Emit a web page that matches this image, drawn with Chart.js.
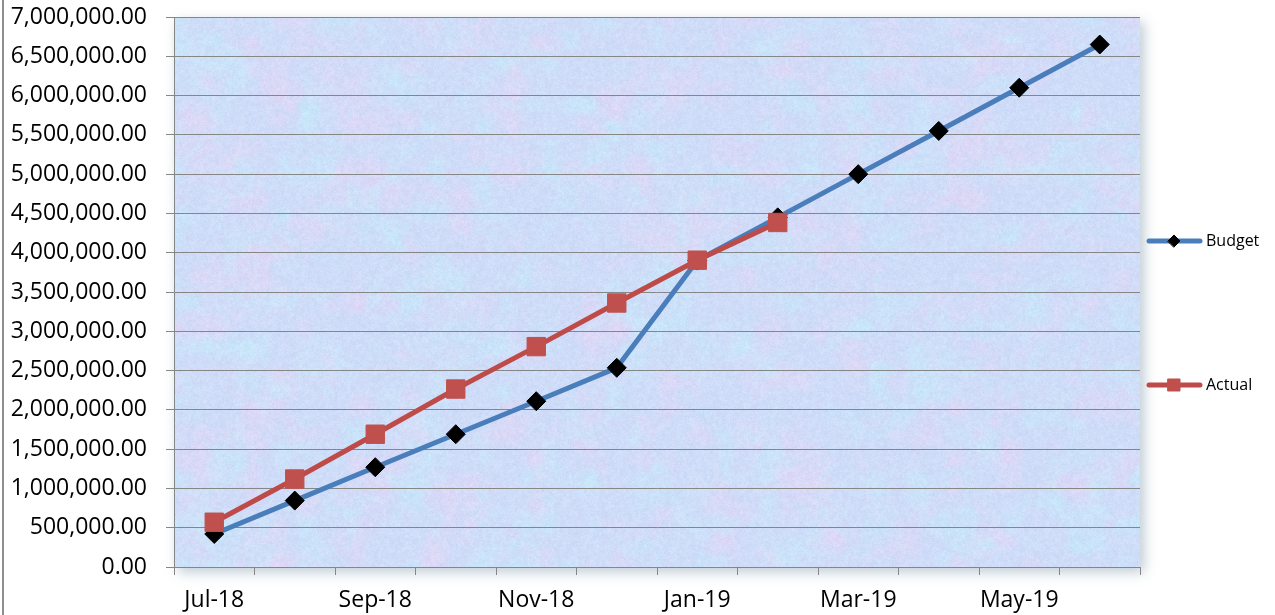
<!DOCTYPE html>
<html>
<head>
<meta charset="utf-8">
<script src="https://cdn.jsdelivr.net/npm/chart.js@4.4.1/dist/chart.umd.min.js"></script>
<style>
  html, body { margin: 0; padding: 0; background: #ffffff; }
  #wrap { width: 1275px; height: 615px; position: relative; }
</style>
</head>
<body>
<div id="wrap"><canvas id="c" width="1275" height="615"></canvas></div>
<script>
// Monthly cumulative figures
const months = ['Jul-18', 'Aug-18', 'Sep-18', 'Oct-18', 'Nov-18', 'Dec-18',
                'Jan-19', 'Feb-19', 'Mar-19', 'Apr-19', 'May-19', 'Jun-19'];
const budget = [420000, 845000, 1270000, 1690000, 2110000, 2535000,
                3900000, 4450000, 5000000, 5550000, 6100000, 6650000];
const actual = [570000, 1120000, 1690000, 2265000, 2805000, 3360000,
                3905000, 4385000, null, null, null, null];
const yMin = 0;
const yMax = 7000000;
const yStep = 500000;

const FONT = '"Open Sans", "Liberation Sans", sans-serif';
const GRID = '#868686';

// Marbled blue / pink paper texture for the plot area
function makeTexture(w, h) {
  const cv = document.createElement('canvas');
  cv.width = w; cv.height = h;
  const g = cv.getContext('2d');
  const img = g.createImageData(w, h);
  const hash = (x, y, s) => {
    const v = Math.sin(x * 127.1 + y * 311.7 + s * 74.7) * 43758.5453;
    return v - Math.floor(v);
  };
  const noise = (x, y, s) => {
    const xi = Math.floor(x), yi = Math.floor(y);
    const xf = x - xi, yf = y - yi;
    const u = xf * xf * (3 - 2 * xf), v = yf * yf * (3 - 2 * yf);
    const a = hash(xi, yi, s), b = hash(xi + 1, yi, s);
    const c = hash(xi, yi + 1, s), d = hash(xi + 1, yi + 1, s);
    return a + (b - a) * u + (c - a) * v + (a - b - c + d) * u * v;
  };
  const fbm = (x, y, s) => {
    let t = 0, amp = 0.5, f = 1;
    for (let o = 0; o < 4; o++) { t += amp * noise(x * f, y * f, s + o); amp *= 0.5; f *= 2; }
    return t / 0.9375;
  };
  for (let y = 0; y < h; y++) {
    for (let x = 0; x < w; x++) {
      const pink = Math.max(0, fbm(x / 26, y / 26, 3) - 0.48) * 1.7;
      const cyan = Math.max(0, fbm(x / 22 + 9, y / 22 + 4, 11) - 0.48) * 1.8;
      const grain = (hash(x, y, 21) - 0.5) * 9 + (fbm(x / 3, y / 3, 31) - 0.5) * 14;
      let r = 207, gg = 220, b = 248;
      r += (230 - r) * pink; gg += (213 - gg) * pink; b += (245 - b) * pink;
      r += (196 - r) * cyan; gg += (234 - gg) * cyan; b += (250 - b) * cyan;
      const i = (y * w + x) * 4;
      img.data[i] = Math.min(255, r + grain);
      img.data[i + 1] = Math.min(255, gg + grain);
      img.data[i + 2] = Math.min(255, b + grain * 0.5);
      img.data[i + 3] = 255;
    }
  }
  g.putImageData(img, 0, 0);
  return cv;
}

let texture = null;

const plotBackground = {
  id: 'plotBackground',
  beforeDraw(chart) {
    const { ctx, chartArea: a } = chart;
    const w = Math.round(a.right - a.left), h = Math.round(a.bottom - a.top);
    if (!texture || texture.width !== w || texture.height !== h) texture = makeTexture(w, h);
    ctx.save();
    ctx.shadowColor = 'rgba(110,140,160,0.45)';
    ctx.shadowBlur = 12;
    ctx.shadowOffsetX = 4;
    ctx.shadowOffsetY = 5;
    ctx.fillStyle = '#cfdcf4';
    ctx.fillRect(a.left, a.top, w, h);
    ctx.restore();
    ctx.drawImage(texture, a.left, a.top);
  },
  afterDraw(chart) {
    const { ctx } = chart;
    ctx.save();
    // outer frame edge
    ctx.fillStyle = '#8e8e8e';
    ctx.fillRect(2, 0, 2, chart.height);

    // legend on the right
    const items = [
      { text: 'Budget', y: 241, ds: chart.data.datasets[0], style: 'rectRot', r: 6 },
      { text: 'Actual', y: 385, ds: chart.data.datasets[1], style: 'rect', r: 8.5 }
    ];
    items.forEach(it => {
      ctx.lineCap = 'round';
      ctx.lineWidth = 5;
      ctx.strokeStyle = it.ds.borderColor;
      ctx.beginPath();
      ctx.moveTo(1149, it.y);
      ctx.lineTo(1200, it.y);
      ctx.stroke();
      ctx.fillStyle = it.ds.pointBackgroundColor;
      ctx.strokeStyle = it.ds.pointBorderColor;
      ctx.lineWidth = 1;
      Chart.helpers.drawPoint(ctx, { pointStyle: it.style, radius: it.r, rotation: 0, borderWidth: 1 }, 1174, it.y);
      ctx.fillStyle = '#000000';
      ctx.font = '16px ' + FONT;
      ctx.textAlign = 'left';
      ctx.textBaseline = 'middle';
      ctx.fillText(it.text, 1206, it.y);
    });
    ctx.restore();
  }
};

function build() {
  new Chart(document.getElementById('c'), {
    type: 'line',
    data: {
      labels: months,
      datasets: [
        {
          label: 'Budget',
          data: budget,
          order: 2,
          borderColor: '#4A7EBB',
          borderWidth: 5,
          borderCapStyle: 'round',
          borderJoinStyle: 'round',
          tension: 0,
          fill: false,
          pointStyle: 'rectRot',
          pointRadius: 9.5,
          pointHoverRadius: 9.5,
          pointBackgroundColor: '#000000',
          pointBorderColor: '#000000',
          pointBorderWidth: 1
        },
        {
          label: 'Actual',
          data: actual,
          order: 1,
          borderColor: '#BE4B48',
          borderWidth: 5,
          borderCapStyle: 'round',
          borderJoinStyle: 'round',
          tension: 0,
          fill: false,
          spanGaps: false,
          pointStyle: 'rect',
          pointRadius: 13,
          pointHoverRadius: 13,
          pointBackgroundColor: '#C0504D',
          pointBorderColor: '#C0504D',
          pointBorderWidth: 1
        }
      ]
    },
    options: {
      responsive: false,
      animation: false,
      devicePixelRatio: 1,
      layout: { padding: { left: 0, right: 135, top: 17, bottom: 0 } },
      plugins: {
        legend: { display: false },
        tooltip: { enabled: false }
      },
      scales: {
        x: {
          type: 'category',
          offset: true,
          grid: {
            offset: true,
            drawOnChartArea: false,
            drawTicks: true,
            tickLength: 8,
            color: GRID,
            lineWidth: 1
          },
          border: { display: true, color: GRID, width: 1 },
          ticks: {
            autoSkip: false,
            maxRotation: 0,
            minRotation: 0,
            padding: 12,
            color: '#000000',
            font: { family: FONT, size: 23 },
            callback: (v, i) => (i % 2 === 0 ? months[i] : '')
          },
          afterFit: s => { s.height = 48; }
        },
        y: {
          min: yMin,
          max: yMax,
          grid: { color: GRID, lineWidth: 1, tickLength: 8, drawTicks: true },
          border: { display: true, color: GRID, width: 1 },
          ticks: {
            stepSize: yStep,
            padding: 19,
            color: '#000000',
            font: { family: FONT, size: 23 },
            callback: v => Number(v).toLocaleString('en-US', { minimumFractionDigits: 2, maximumFractionDigits: 2 })
          },
          afterFit: s => { s.width = 174; s.paddingTop = 0; s.paddingBottom = 0; }
        }
      }
    },
    plugins: [plotBackground]
  });
}

if (document.fonts && document.fonts.load) {
  Promise.all([
    document.fonts.load('23px "Open Sans"'),
    document.fonts.load('16px "Open Sans"')
  ]).then(build, build);
} else {
  build();
}
</script>
</body>
</html>
